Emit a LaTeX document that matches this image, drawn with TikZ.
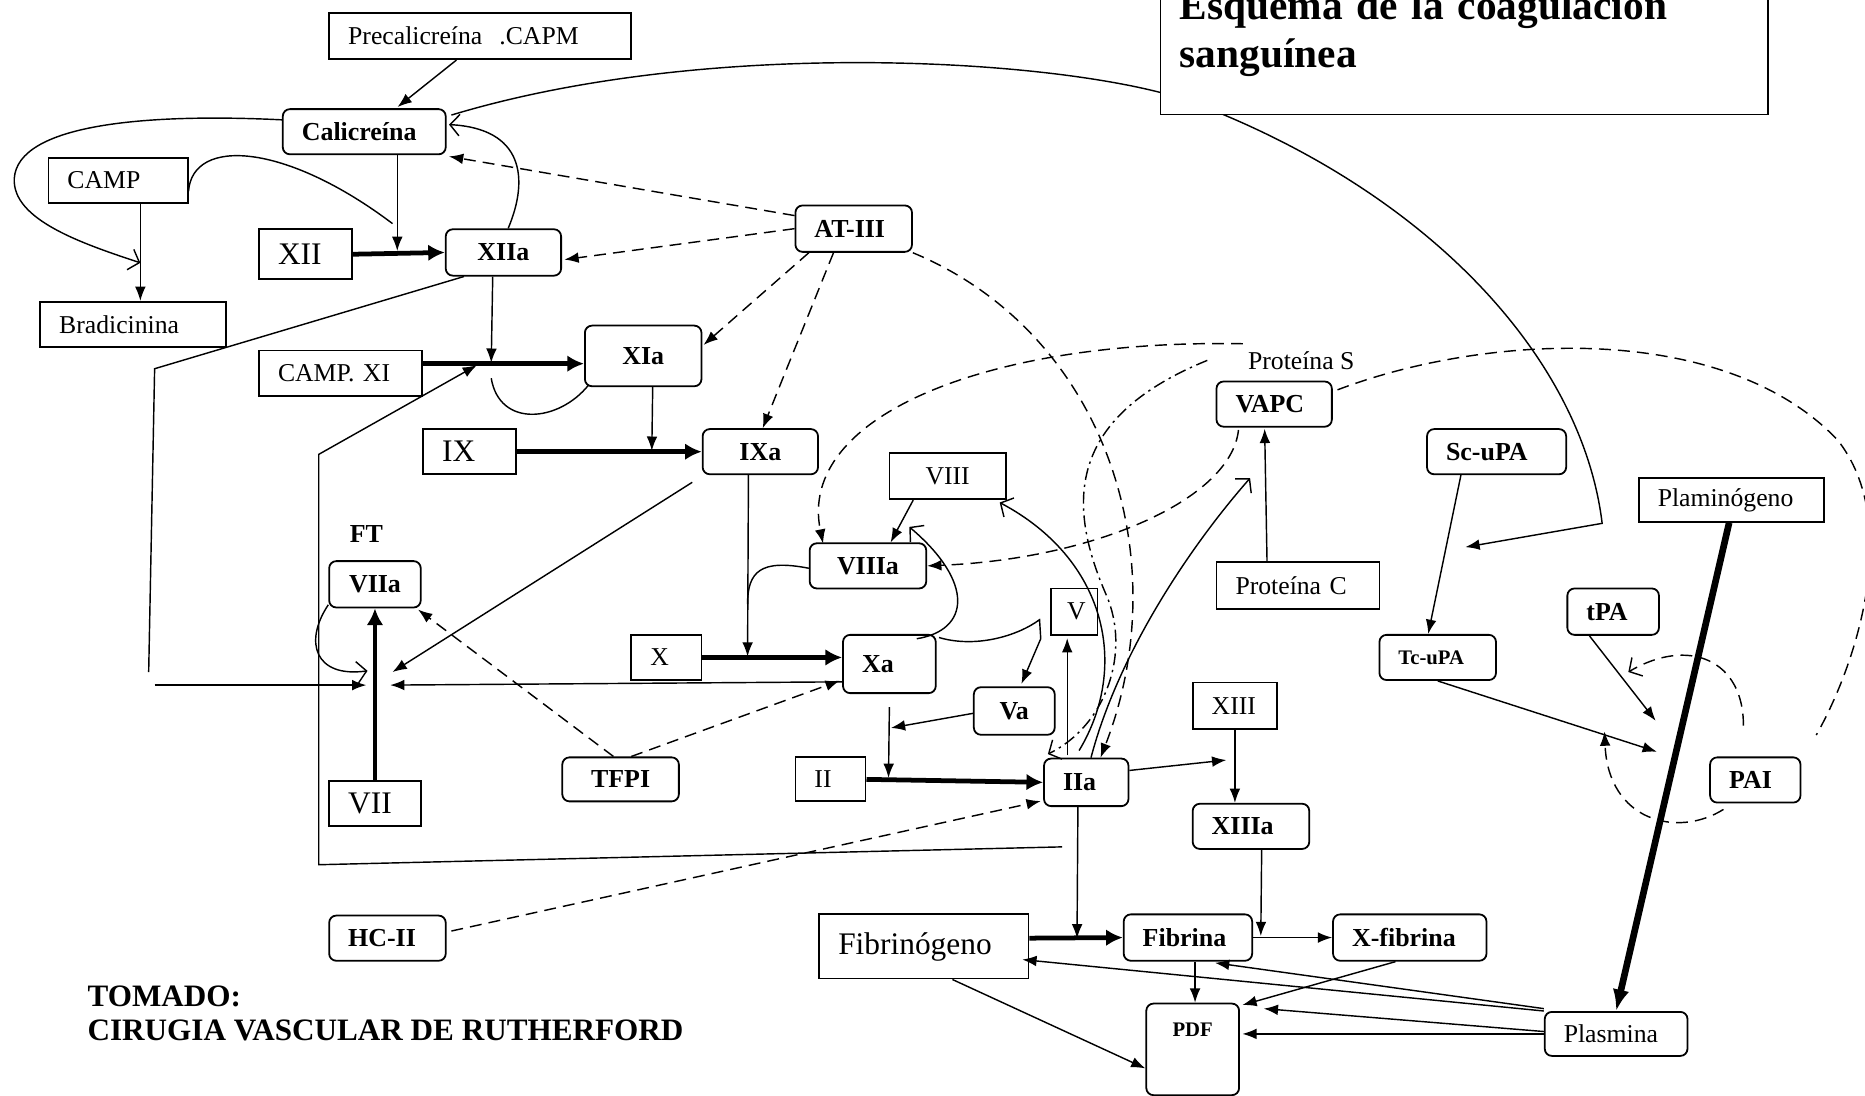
\documentclass[tikz,border=0pt]{standalone}
\usepackage{fontspec}
\setmainfont{Liberation Serif}
\usepackage{tikz}
\usetikzlibrary{arrows.meta,calc}
\frenchspacing

\begin{document}
\begin{tikzpicture}[x=0.5pt, y=-0.5pt, line width=0.6pt]
  \tikzstyle{rtext} = [font=\fontsize{10.8}{13}\selectfont]
  \tikzstyle{bigtext} = [font=\fontsize{13.2}{15}\selectfont]
  \tikzstyle{btext} = [font=\fontsize{10.9}{13}\selectfont\bfseries]
  \tikzstyle{sbtext} = [font=\fontsize{8.7}{10}\selectfont\bfseries]
  \tikzstyle{box} = [rectangle, draw, line width=0.75pt, anchor=north west, inner xsep=8pt, inner ysep=0pt, align=left]
  \tikzstyle{rbox} = [box, rounded corners=3pt]
  \tikzstyle{arrow} = [draw, -{Latex[length=6pt,width=4.5pt]}]
  \tikzstyle{thickarrow} = [draw, line width=2pt, -{Latex[length=7pt,width=7pt]}]
  \tikzstyle{bigarrow} = [draw, line width=2.8pt, -{Latex[length=9pt,width=7pt]}]
  \tikzstyle{openarrow} = [draw, -{Straight Barb[length=4pt,width=9pt]}]
  \tikzstyle{inhibit} = [arrow, dash pattern=on 5pt off 3pt]
  \tikzstyle{dashline} = [draw, dash pattern=on 5pt off 3pt]
  \tikzstyle{dotdash} = [dash pattern=on 5pt off 2pt on 1pt off 2pt]

  \path[use as bounding box, fill=white] (0,0) rectangle (1568,921);

  \node[box, rtext, text width=111pt, minimum height=19.5pt] (precal) at (276,10) {Precalicreína\ \ .CAPM};
  \node[rbox, btext, text width=52.5pt, minimum height=19pt] (calicreina) at (237,91) {Calicreína};
  \node[box, rtext, text width=42.5pt, minimum height=19pt] (camp) at (40,132) {CAMP};
  \node[box, bigtext, text width=23pt, minimum height=21pt] (xii) at (217,192) {XII};
  \node[rbox, btext, text width=32.5pt, minimum height=19.5pt, align=center] (xiia) at (374,192) {XIIa};
  \node[rbox, btext, text width=33pt, minimum height=19.5pt] (atiii) at (668,172) {AT-III};
  \node[box, rtext, text width=62pt, minimum height=19pt] (bradi) at (33,253) {Bradicinina};
  \node[box, rtext, text width=52.5pt, minimum height=19pt] (campxi) at (217,294) {CAMP. XI};
  \node[rbox, btext, text width=33pt, minimum height=25.5pt, align=center] (xia) at (491,273) {XIa};
  \node[box, bigtext, text width=23pt, minimum height=19pt] (ix) at (355,360) {IX};
  \node[rbox, btext, text width=32.5pt, minimum height=19pt, align=center] (ixa) at (590,360) {IXa};
  \node[box, rtext, text width=33pt, minimum height=19.5pt, align=center] (viii) at (747,380) {VIII};
  \node[rbox, btext, text width=33pt, minimum height=19pt, align=center] (viiia) at (680,456) {VIIIa};
  \node[btext] (ft) at (308,449) {FT};
  \node[rbox, btext, text width=22.5pt, minimum height=19.5pt, align=center] (viia) at (276,471) {VIIa};
  \node[box, rtext, text width=13.5pt, minimum height=19pt] (x) at (530,533) {X};
  \node[rbox, btext, text width=23pt, minimum height=24.5pt] (xa) at (708,533) {Xa};
  \node[box, rtext, inner xsep=0pt, minimum width=19.5pt, minimum height=19.5pt] (v) at (883,494) {\,V};
  \node[rbox, btext, text width=18pt, minimum height=20pt, align=center] (va) at (818,577) {Va};
  \node[rbox, btext, text width=33pt, minimum height=18.5pt, align=center] (tfpi) at (472,636) {TFPI};
  \node[box, bigtext, text width=22.5pt, minimum height=19pt] (vii) at (276,656) {VII};
  \node[box, rtext, text width=13.5pt, minimum height=18.5pt] (ii) at (668,636) {II};
  \node[rbox, btext, text width=19.5pt, minimum height=20pt] (iia) at (877,637) {IIa};
  \node[box, rtext, text width=19.5pt, minimum height=19.5pt] (xiii) at (1002,573) {XIII};
  \node[rbox, btext, text width=33pt, minimum height=19pt] (xiiia) at (1002,675) {XIIIa};
  \node[rbox, btext, text width=33pt, minimum height=19pt] (hcii) at (276,769) {HC-II};
  \node[box, bigtext, text width=72pt, minimum height=27pt] (fibrinogeno) at (688,768) {Fibrinógeno};
  \node[rbox, btext, text width=38pt, minimum height=19.5pt] (fibrina) at (944,768) {Fibrina};
  \node[rbox, btext, text width=48.5pt, minimum height=19.5pt] (xfibrina) at (1120,768) {X-fibrina};
  \node[rbox, sbtext, text width=23pt, text height=14pt, text depth=24.5pt, align=center] (pdf) at (963,843) {PDF};
  \node[rbox, rtext, text width=44pt, minimum height=18.5pt] (plasmina) at (1298,850) {Plasmina};
  \node[rbox, btext, text width=32.5pt, minimum height=19pt] (vapc) at (1022,320) {VAPC};
  \node[rtext] (prots) at (1094,303) {Proteína S};
  \node[box, rtext, text width=52.5pt, minimum height=19.5pt] (protc) at (1022,472) {Proteína C};
  \node[rbox, btext, text width=42.5pt, minimum height=19pt] (scupa) at (1199,360) {Sc-uPA};
  \node[box, rtext, text width=62pt, minimum height=18.5pt] (plamin) at (1377,401) {Plaminógeno};
  \node[rbox, btext, text width=22.5pt, minimum height=19.5pt] (tpa) at (1317,494) {tPA};
  \node[rbox, sbtext, text width=33pt, minimum height=19pt] (tcupa) at (1159,533) {Tc-uPA};
  \node[rbox, btext, text width=22pt, minimum height=19pt] (pai) at (1437,636) {PAI};
  \node[font=\fontsize{13.1}{15}\selectfont\bfseries, anchor=base west, inner sep=0pt] (tomado) at (73,846) {TOMADO:};
  \node[font=\fontsize{13.1}{15}\selectfont\bfseries, anchor=base west, inner sep=0pt] (fuente) at (73,875) {CIRUGIA VASCULAR DE RUTHERFORD};

  \coordinate (j12) at (334,211);
  \coordinate (campend) at (330,188);
  \coordinate (jb) at (118,221);
  \coordinate (j11) at (413,305);
  \coordinate (xiaend) at (413,318);
  \coordinate (j9) at (548,379);
  \coordinate (j10) at (628.5,552);
  \coordinate (viiiaend) at (628.5,508);
  \coordinate (jvii) at (315,576);
  \coordinate (j2) at (747,654);
  \coordinate (jva) at (749,612);
  \coordinate (xahook) at (874,521);
  \coordinate (vatop) at (875,537);
  \coordinate (jf) at (905.5,789);
  \coordinate (jxf) at (1060,787);
  \coordinate (j13) at (1031,639);
  \coordinate (jsc) at (1232,460);
  \coordinate (arcend) at (1347,440);
  \coordinate (jpl) at (1393,632);
  \coordinate (jtpa) at (1392,606);
  \coordinate (lowstart) at (893,712);
  \coordinate (lowcorner) at (268,727);
  \coordinate (lowtop) at (268,382);
  \coordinate (leftcorner) at (130,310);
  \coordinate (leftend) at (125,565);
  \coordinate (leftstart) at (130,576);
  \coordinate (dashdotstart) at (1015,303);
  \coordinate (dashtopstart) at (1045,289);
  \coordinate (vapcarrow) at (1051,402);
  \coordinate (paiarc) at (1527,618);
  \coordinate (paiopen) at (1369,565);
  \coordinate (paiup) at (1349,615);

  % intrinseca
  \path[arrow] ($(precal.south)+(-20,0)$) -- ($(calicreina.north)+(28,-1)$);
  \path[arrow] (calicreina.south -| j12) -- (j12);
  \path[thickarrow] (xii.east) -- (xiia.west);
  \draw ($(camp.east)+(0,9)$) .. controls (162,115) and (240,120) .. (campend);
  \path[openarrow] ($(calicreina.west)+(0,-10)$) .. controls (120,95) and (15,105) .. (12,150) .. controls (10,185) and (70,205) .. (jb);
  \path[arrow] (camp.south -| jb) -- (bradi.north -| jb);
  \path[openarrow] ($(xiia.north)+(4,0)$) .. controls (445,150) and (440,108) .. ($(calicreina.east)+(2,-6)$);
  \path[arrow] ($(calicreina.east)+(4,-14)$) .. controls (600,30) and (900,50) .. (1000,85) .. controls (1200,160) and (1330,300) .. (arcend) -- (jsc);
  \path[arrow] ($(xiia.south)+(-9,0)$) -- (j11);
  \path[thickarrow] ($(campxi.east)+(0,-8)$) -- ($(xia.west)+(0,6.5)$);
  \draw ($(xia.south west)+(4,-2)$) .. controls (470,355) and (420,360) .. (xiaend);
  \path[arrow] ($(xia.south)+(8,0)$) -- (j9);
  \path[thickarrow] (ix.east) -- (ixa.west);
  \path[arrow] (lowstart) -- (lowcorner) -- (lowtop) -- ($(j11)+(-12,2)$);
  \draw ($(xiia.south west)+(16,0)$) -- (leftcorner) -- (leftend);
  \path[arrow] (leftstart) -- ($(jvii)+(-7,0)$);
  \path[arrow] ($(ixa.south west)+(-8,6)$) -- ($(jvii)+(15,-11)$);
  \path[arrow] ($(ixa.south)+(-10,0)$) -- (j10);
  \draw ($(viiia.west)+(0,2)$) .. controls (640,470) and (628.5,480) .. (viiiaend);
  \path[arrow] ($(viii.south)+(-29,0)$) -- ($(viiia.north)+(19,0)$);
  \path[thickarrow] (x.east) -- (x.east -| xa.west);
  \path[arrow] ($(xa.west)+(0,15)$) -- ($(jvii)+(13,0)$);
  \path[thickarrow] (vii.north) -- (viia.south);
  \path[openarrow] ($(viia.south west)+(0,-3)$) .. controls (255,540) and (265,570) .. ($(jvii)+(-6,-12)$);

  % inhibidores
  \path[inhibit] ($(atiii.west)+(0,-11)$) -- ($(calicreina.south east)+(2,1)$);
  \path[inhibit] (atiii.west) -- ($(xiia.east)+(2,6)$);
  \path[inhibit] ($(atiii.south west)+(12,0)$) -- ($(xia.north east)+(1,17)$);
  \path[inhibit] ($(atiii.south)+(-17,0)$) -- ($(ixa.north)+(2,0)$);
  \path[inhibit] (atiii.south east) .. controls (930,280) and (990,470) .. ($(iia.north)+(12,0)$);
  \path[inhibit] ($(tfpi.north)+(-6,0)$) -- ($(viia.south east)+(-3,1)$);
  \path[inhibit] ($(tfpi.north)+(9,0)$) -- ($(xa.west)+(-2,14)$);
  \path[inhibit] ($(hcii.east)+(4,-6)$) -- ($(iia.south west)+(-2,-5)$);

  % comun
  \path[openarrow] ($(xa.north)+(23,4)$) .. controls (815,530) and (820,490) .. ($(viiia.north east)+(-15,-13)$);
  \path[arrow] ($(xa.north east)+(2,3)$) .. controls (820,545) and (855,535) .. (xahook) -- (vatop) -- ($(va.north)+(6,-2)$);
  \path[arrow] ($(va.west)+(0,2)$) -- (jva);
  \path[arrow] ($(xa.south)+(0,11)$) -- (j2);
  \path[thickarrow] (ii.east) -- (iia.west);
  \path[arrow] ($(iia.north)+(-16,-2)$) -- ($(v.south)+(-6,2)$);
  \path[openarrow] ($(iia.north)+(-6,-6)$) .. controls (950,560) and (930,470) .. ($(viii.south east)+(-6,2)$);
  \path[openarrow] ($(iia.north)+(4,0)$) .. controls (940,550) and (1000,460) .. (vapcarrow);
  \path[openarrow, dotdash] (dashdotstart) .. controls (900,350) and (895,420) .. (930,500) .. controls (951,548) and (930,610) .. ($(iia.north west)+(4,-3)$);
  \path[arrow] ($(iia.east)+(0,-10)$) -- (j13);
  \path[arrow] (xiii.south) -- (xiii.south |- xiiia.north);
  \path[arrow] ($(xiiia.south)+(9,0)$) -- (jxf);
  \path[arrow] (fibrina.east) -- (xfibrina.west);
  \path[arrow] ($(iia.south)+(-7,0)$) -- (jf);
  \path[thickarrow] ($(fibrinogeno.east)+(0,-7)$) -- (fibrina.west);
  \path[arrow] ($(fibrina.south)+(6,0)$) -- ($(pdf.north)+(2,0)$);
  \path[arrow] ($(xfibrina.south)+(-12,0)$) -- ($(pdf.north east)+(2,2)$);
  \path[arrow] ($(fibrinogeno.south)+(24,0)$) -- ($(pdf.west)+(0,16)$);

  % proteina C
  \path[arrow] ($(protc.north)+(-26,0)$) -- ($(vapc.south)+(-8,1)$);
  \path[inhibit] ($(vapc.south)+(-30,2)$) .. controls (1035,420) and (920,470) .. (viiia.east);
  \path[inhibit] (dashtopstart) .. controls (830,285) and (670,350) .. ($(viiia.north west)+(12,1)$);
  \path[dashline] ($(vapc.east)+(4,-12)$) .. controls (1250,280) and (1450,270) .. (1545,370) .. controls (1600,440) and (1560,560) .. (paiarc);

  % fibrinolisis
  \path[bigarrow] ($(plamin.south)+(-2,0)$) -- (plasmina.north);
  \path[arrow] (plasmina.north west) -- ($(fibrinogeno.east)+(-6,11)$);
  \path[arrow] ($(plasmina.north west)+(0,-2)$) -- ($(fibrina.south east)+(-32,1)$);
  \path[arrow] ($(plasmina.west)+(0,-2)$) -- ($(pdf.north east)+(20,5)$);
  \path[arrow] (plasmina.west) -- ($(pdf.east)+(2,-13)$);
  \path[arrow] ($(scupa.south)+(-30,0)$) -- ($(tcupa.north)+(-8,0)$);
  \path[arrow] (tcupa.south) -- (jpl);
  \path[arrow] ($(tpa.south)+(-20,0)$) -- (jtpa);
  \path[openarrow, dash pattern=on 5pt off 3pt] ($(pai.north)+(-10,-26)$) .. controls (1466,555) and (1420,535) .. (paiopen);
  \path[inhibit] ($(pai.south west)+(12,5)$) .. controls (1410,705) and (1352,690) .. (paiup);

  \node[box, font=\fontsize{17.4}{20}\selectfont\bfseries, text width=239.5pt, anchor=south west, inner ysep=16pt, fill=white] (title) at (975,97) {Esquema de la coagulación\\sanguínea};
\end{tikzpicture}
\end{document}
